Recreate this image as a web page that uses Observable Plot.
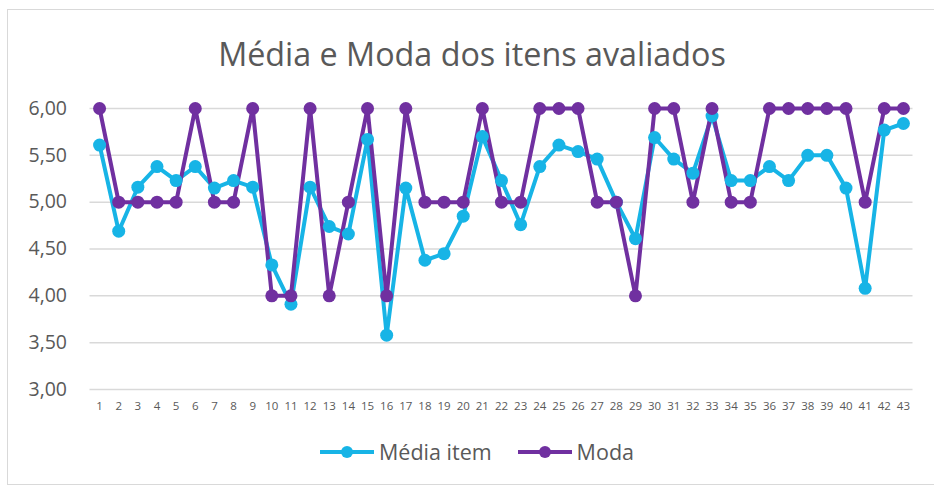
<!DOCTYPE html>
<html>
<head>
<meta charset="utf-8">
<script src="https://cdn.jsdelivr.net/npm/d3@7"></script>
<script src="https://cdn.jsdelivr.net/npm/@observablehq/plot@0.6"></script>
<style>
  html, body { margin: 0; padding: 0; background: #fff; width: 934px; height: 488px; overflow: hidden; }
  body { position: relative; font-family: "Open Sans", "Noto Sans", sans-serif; color: #595959; }
  #frame { position: absolute; left: 7px; top: 9px; width: 940px; height: 476px; border: 1px solid #d9d9d9; box-sizing: border-box; }
  #title { position: absolute; left: 5px; top: 30px; width: 934px; text-align: center; font-size: 32.3px; line-height: 46px; color: #595959; }
  #chart { position: absolute; left: 0; top: 80px; }
  #chart g[aria-label="y-axis tick label"], #chart g[aria-label="y-axis tick label"] text { font-size: 19.5px !important; }
  #legend { position: absolute; left: 10px; top: 437px; width: 934px; display: flex; justify-content: center; align-items: center; font-size: 21.5px; line-height: 30px; color: #595959; }
  .item { display: flex; align-items: center; margin: 0 13px; }
  .item svg { margin-right: 5px; }
</style>
</head>
<body>
<div id="frame"></div>
<div id="title">Média e Moda dos itens avaliados</div>
<div id="chart"></div>
<div id="legend"></div>
<script>
const items = d3.range(1, 44);
const mediaItem = [5.61, 4.69, 5.16, 5.38, 5.23, 5.38, 5.15, 5.23, 5.16, 4.33,
                   3.91, 5.16, 4.74, 4.66, 5.67, 3.58, 5.15, 4.38, 4.45, 4.85,
                   5.70, 5.23, 4.76, 5.38, 5.61, 5.54, 5.46, 5.00, 4.61, 5.69,
                   5.46, 5.31, 5.92, 5.23, 5.23, 5.38, 5.23, 5.50, 5.50, 5.15,
                   4.08, 5.77, 5.84];
const moda = [6, 5, 5, 5, 5, 6, 5, 5, 6, 4,
              4, 6, 4, 5, 6, 4, 6, 5, 5, 5,
              6, 5, 5, 6, 6, 6, 5, 5, 4, 6,
              6, 5, 6, 5, 5, 6, 6, 6, 6, 6,
              5, 6, 6];
const yTicks = [3, 3.5, 4, 4.5, 5, 5.5, 6];
const seriesNames = ["Média item", "Moda"];
const seriesColors = ["#17B4E6", "#7030A0"];

const rows = [];
items.forEach((it, i) => {
  rows.push({item: it, value: mediaItem[i], serie: seriesNames[0]});
});
items.forEach((it, i) => {
  rows.push({item: it, value: moda[i], serie: seriesNames[1]});
});

const fmt = d3.format(".2f");
const chart = Plot.plot({
  width: 934,
  height: 350,
  marginTop: 28,
  marginBottom: 41,
  marginLeft: 89.5,
  marginRight: 21.5,
  style: {fontFamily: "'Open Sans', 'Noto Sans', sans-serif", color: "#595959", background: "transparent"},
  x: {type: "point", domain: items, padding: 0.5, round: false, label: null},
  y: {domain: [3, 6], label: null},
  color: {domain: seriesNames, range: seriesColors},
  marks: [
    Plot.ruleY(yTicks, {stroke: "#d9d9d9", strokeWidth: 1.5}),
    Plot.axisY({ticks: yTicks, tickSize: 0, tickPadding: 23, tickFormat: d => fmt(d).replace(".", ","), fontSize: 19.5, label: null}),
    Plot.axisX({tickSize: 0, tickPadding: 12, fontSize: 11.5, label: null}),
    Plot.line(rows, {x: "item", y: "value", z: "serie", stroke: "serie", strokeWidth: 4, strokeLinejoin: "round"}),
    Plot.dot(rows, {x: "item", y: "value", fill: "serie", r: 6.5, stroke: "none"})
  ]
});
document.getElementById("chart").appendChild(chart);

const legend = document.getElementById("legend");
seriesNames.forEach((name, i) => {
  const div = document.createElement("div");
  div.className = "item";
  div.innerHTML = `<svg width="54" height="14"><line x1="0" y1="7" x2="54" y2="7" stroke="${seriesColors[i]}" stroke-width="4"/><circle cx="27" cy="7" r="6" fill="${seriesColors[i]}"/></svg><span>${name}</span>`;
  legend.appendChild(div);
});
</script>
</body>
</html>
